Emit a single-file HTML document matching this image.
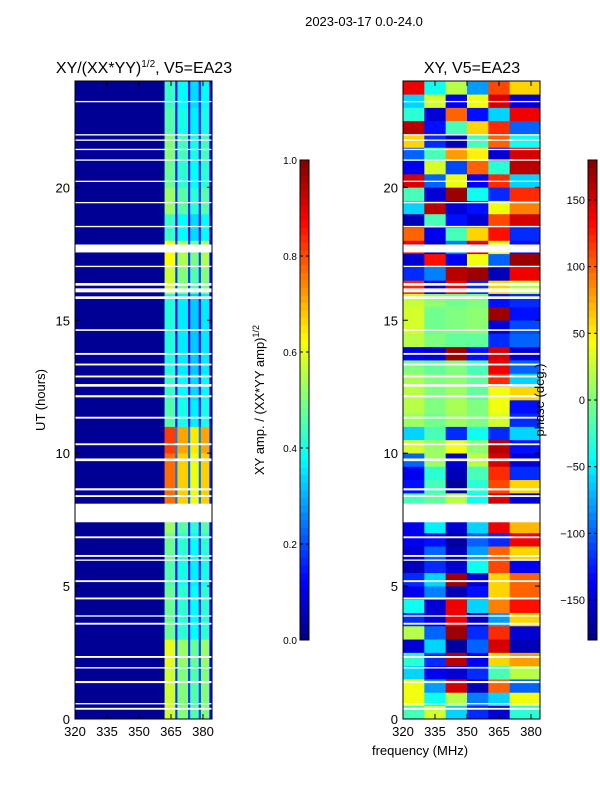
<!DOCTYPE html>
<html><head><meta charset="utf-8">
<style>
body{margin:0;background:#fff;width:600px;height:800px;overflow:hidden;font-family:"Liberation Sans","DejaVu Sans",sans-serif}
svg text{font-family:"Liberation Sans","DejaVu Sans",sans-serif;fill:#000}
</style></head>
<body>
<svg id="fig" width="600" height="800" xmlns="http://www.w3.org/2000/svg">
<text x="364" y="26" font-size="13" text-anchor="middle">2023-03-17 0.0-24.0</text>
<text x="144" y="73" font-size="16" text-anchor="middle">XY/(XX*YY)<tspan font-size="10" dy="-6">1/2</tspan><tspan dy="6">, V5=EA23</tspan></text>
<text x="472" y="73" font-size="16" text-anchor="middle">XY, V5=EA23</text>
<text transform="translate(45,400) rotate(-90)" font-size="13" text-anchor="middle">UT (hours)</text>
<text transform="translate(264,400) rotate(-90)" font-size="13" text-anchor="middle">XY amp. / (XX*YY amp)<tspan font-size="9" dy="-5">1/2</tspan></text>
<g id="left"></g>
<g id="right"></g>
<text transform="translate(544,400) rotate(-90)" font-size="13" text-anchor="middle">phase (deg.)</text>
<text x="420" y="755" font-size="13" text-anchor="middle">frequency (MHz)</text>
<g id="cb"></g>
</svg>
<script>
// ---- data ----
const freqTicks=[320,335,350,365,380];
const utTicks=[0,5,10,15,20];
const ampTicks=[0.0,0.2,0.4,0.6,0.8,1.0];
const phaseTicks=[-150,-100,-50,0,50,100,150];
const ampBandEdges=[320,362,367,368,373,374,378,379,383,384];
const ampBandValues=[0.02,0.48,0.15,0.42,0.15,0.38,0.15,0.42,0.1];
// per-hour scaling of high-band amplitude (UT 0..23)
const ampHourScale=[1.2,1.2,1.25,1.0,1.0,0.95,1.0,1.1,1.6,1.6,1.7,0.95,0.9,0.85,0.85,0.85,1.2,1.3,0.9,1.1,1.0,1.05,0.95,0.9];
// white (flagged) gaps [start,end] in UT hours
const gaps=[[0.35,0.42],[0.55,0.6],[1.35,1.43],[1.9,1.95],[2.3,2.37],[3.55,3.62],[3.85,3.9],[4.5,4.57],[5.15,5.22],[5.95,6.0],[6.1,6.17],[6.8,6.87],[7.4,8.1],[8.35,8.42],[8.6,8.68],[9.7,9.8],[10.3,10.37],[11.3,11.37],[12.1,12.18],[12.5,12.6],[12.85,12.92],[13.3,13.37],[13.7,13.77],[14.6,14.66],[15.8,15.9],[16.05,16.2],[16.3,16.4],[17.0,17.05],[17.55,17.85],[18.5,18.55],[19.4,19.45],[20.2,20.25],[21.0,21.05],[21.4,21.45],[21.75,21.8],[21.95,22.0],[23.2,23.25]];
const phaseBandEdges=[320,330,340,350,360,370,384];
// phase (deg) per half-hour row, UT 0 → 24, six frequency bands
const phaseRows=[
[-20,30,-60,-120,-150,-30],[40,-40,20,-90,-60,40],
[40,-80,150,-160,100,-100],[-60,-140,-150,-120,-20,20],
[-30,-120,160,-140,60,80],[-150,-60,-170,-100,150,-160],
[20,-100,170,-120,120,-150],[-120,-150,140,-160,-80,60],
[-40,-150,140,-60,90,130],[-140,-90,-160,-130,60,100],
[-120,-60,170,-150,60,100],[-160,-120,-150,-40,110,-140],
[-150,-100,-160,-80,100,60],[-140,-130,-170,-100,-120,140],
[-140,-50,-150,-60,140,70],[-140,-50,-150,-60,140,70],
[-20,-10,20,-40,150,-150],[-130,-20,-170,-30,110,60],
[-140,-30,-160,-20,120,-120],[-100,10,-150,20,150,-150],
[30,10,40,5,160,-130],[-60,-20,-120,-40,-120,-60],
[10,-5,10,0,30,-120],[20,0,15,0,40,-130],
[20,0,10,-10,40,60],[15,0,5,-10,120,-60],
[0,-10,0,-20,140,-100],[-140,-150,170,-130,150,-150],
[20,0,-10,-10,-120,-100],[30,-5,0,5,-150,-110],
[30,-5,0,5,170,-130],[25,5,-5,0,-130,-120],
[120,-150,140,-120,60,20],[-120,-90,160,170,-160,140],
[-150,130,-140,40,-100,170],[140,-160,-90,150,40,-130],
[100,-140,-20,60,130,-120],[-160,-20,-130,-150,110,150],
[-60,160,-150,-130,40,90],[-20,-150,170,-40,-120,120],
[150,-100,40,-140,120,-60],[-140,30,-110,100,-30,160],
[-100,-20,80,50,-150,150],[60,-120,-160,-20,100,-40],
[160,-130,-20,60,120,-100],[-30,-150,100,-130,-60,140],
[-60,30,-140,40,150,-150],[140,-40,20,-80,110,60]];

// ---- axes ----
const Y0=719,Y1=81;
const yUT=u=>Y0-(u/24)*(Y0-Y1);
const L={x0:75,x1:212}, R={x0:403,x1:540};
const fx=(p,f)=>p.x0+(f-320)*(128/60);
const NS='http://www.w3.org/2000/svg';
function el(tag,attrs,parent){const e=document.createElementNS(NS,tag);for(const k in attrs)e.setAttribute(k,attrs[k]);parent.appendChild(e);return e;}
function jet(v){v=Math.max(0,Math.min(1,v));
 const r=Math.min(1,Math.max(0,1.5-Math.abs(4*v-3))),g=Math.min(1,Math.max(0,1.5-Math.abs(4*v-2))),b=Math.min(1,Math.max(0,1.5-Math.abs(4*v-1)));
 return `rgb(${Math.round(r*255)},${Math.round(g*255)},${Math.round(b*255)})`;}

const left=document.getElementById('left'), right=document.getElementById('right'), cb=document.getElementById('cb');
for(let h=0;h<24;h++){
 for(let b=0;b<ampBandValues.length;b++){
  const v=b===0?ampBandValues[b]:ampBandValues[b]*ampHourScale[h];
  const x=fx(L,ampBandEdges[b]),x2=fx(L,ampBandEdges[b+1]);
  const r=el('rect',{x:x,y:yUT(h+1),width:x2-x+0.3,height:yUT(h)-yUT(h+1)+0.3,fill:jet(v)},left);
  
  
 }
}
phaseRows.forEach((row,i)=>{
 row.forEach((p,b)=>{
  const x=fx(R,phaseBandEdges[b]),x2=fx(R,phaseBandEdges[b+1]);
  const r=el('rect',{x:x,y:yUT((i+1)/2),width:x2-x+0.3,height:yUT(i/2)-yUT((i+1)/2)+0.3,fill:jet((p+180)/360)},right);
  
  
 });
});
[[L,left],[R,right]].forEach(([P,g])=>{
 gaps.forEach(([a,b])=>{
  const r=el('rect',{x:P.x0,y:yUT(b),width:P.x1-P.x0,height:yUT(a)-yUT(b),fill:'#fff'},g);
  
  
 });
 const f=el('rect',{x:P.x0,y:Y1,width:P.x1-P.x0,height:Y0-Y1,fill:'none',stroke:'#000','stroke-width':1},g);
 
 
 freqTicks.forEach(t=>{const x=fx(P,t);
  el('line',{x1:x,x2:x,y1:Y0,y2:Y0-5,stroke:'#000'},g);el('line',{x1:x,x2:x,y1:Y1,y2:Y1+5,stroke:'#000'},g);
  const tx=el('text',{x:x,y:Y0+17,'font-size':13,'text-anchor':'middle'},g);tx.textContent=t;
  
  });
 utTicks.forEach(t=>{const y=yUT(t);
  el('line',{x1:P.x0,x2:P.x0+5,y1:y,y2:y,stroke:'#000'},g);el('line',{x1:P.x1,x2:P.x1-5,y1:y,y2:y,stroke:'#000'},g);
  const tx=el('text',{x:P.x0-5,y:y+5,'font-size':13,'text-anchor':'end'},g);tx.textContent=t;
  
  });
});
function colorbar(x,labels,toFrac,fmt){
 const top=160,bot=640,n=64;
 for(let i=0;i<n;i++){el('rect',{x:x,y:bot-(i+1)*(bot-top)/n,width:9,height:(bot-top)/n+0.4,fill:jet((i+0.5)/n)},cb);}
 const fr=el('rect',{x:x,y:top,width:9,height:bot-top,fill:'none',stroke:'#000'},cb);
 
 
 labels.forEach(t=>{const y=bot-toFrac(t)*(bot-top);
  el('line',{x1:x,x2:x+3,y1:y,y2:y,stroke:'#000'},cb);el('line',{x1:x+9,x2:x+6,y1:y,y2:y,stroke:'#000'},cb);
  const tx=el('text',{x:x-3,y:y+4,'font-size':fmt?11:10,'text-anchor':'end'},cb);tx.textContent=fmt?fmt(t):t.toFixed(1);
  
  });
}
colorbar(300,ampTicks,t=>t,null);
colorbar(588,phaseTicks,t=>(t+180)/360,t=>t<0?'\u2212'+(-t):String(t));
</script>
</body></html>
